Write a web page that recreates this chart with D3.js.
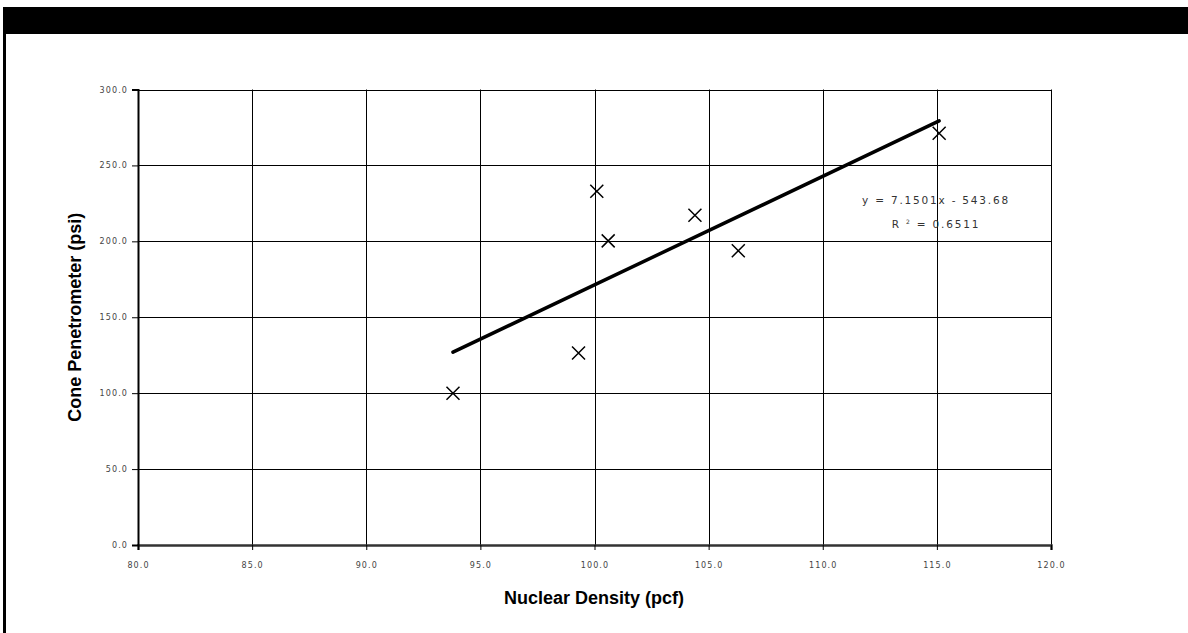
<!DOCTYPE html>
<html lang="en">
    <head>
        <meta charset="utf-8">
        <title>Cone Penetrometer vs Nuclear Density</title>
        <script src="https://d3js.org/d3.v7.min.js"></script>
        <style type="text/css">
            html, body {
                margin: 0;
                padding: 0;
                background-color: white;
            }
            .tick-label {
                font-family: "DejaVu Sans", sans-serif;
                font-size: 8px;
                letter-spacing: 1.1px;
                fill: #444;
            }
            .axis-title {
                font-family: "Liberation Sans", Arial, sans-serif;
                font-size: 18px;
                font-weight: bold;
                fill: #000;
            }
            .eq {
                font-family: "DejaVu Sans", sans-serif;
                font-size: 10.5px;
                letter-spacing: 1.8px;
                fill: #333;
            }
        </style>
    </head>
    <body>
        <script type="text/javascript">
            // data
            const density = [93.8, 99.3, 100.1, 100.6, 104.4, 106.3, 115.1];
            const cone = [100.0, 126.5, 233.0, 200.3, 217.2, 193.8, 271.2];
            const xTicks = [80, 85, 90, 95, 100, 105, 110, 115, 120];
            const yTicks = [0, 50, 100, 150, 200, 250, 300];
            // trend line as printed on the chart
            const slope = 7.1501, intercept = -543.68, r2 = 0.6511;

            const w = 1188, h = 633;
            const svg = d3.select("body").append("svg")
                .attr("width", w)
                .attr("height", h);

            // frame: black bar on top, thick line on left
            svg.append("rect").attr("x", 3).attr("y", 7).attr("width", w - 3).attr("height", 27).attr("fill", "#000");
            svg.append("rect").attr("x", 3).attr("y", 7).attr("width", 3).attr("height", h - 7).attr("fill", "#000");

            const x = d3.scaleLinear().domain([80, 120]).range([138, 1051]);
            const y = d3.scaleLinear().domain([0, 300]).range([545, 89.5]);

            // gridlines
            svg.append("g").selectAll("line.v")
                .data(xTicks)
                .enter().append("line")
                .attr("x1", d => Math.round(x(d)) + 0.5).attr("x2", d => Math.round(x(d)) + 0.5)
                .attr("y1", y(300)).attr("y2", y(0))
                .attr("stroke", "#000").attr("stroke-width", 1);
            svg.append("g").selectAll("line.h")
                .data(yTicks)
                .enter().append("line")
                .attr("x1", x(80)).attr("x2", x(120))
                .attr("y1", d => Math.round(y(d)) + 0.5).attr("y2", d => Math.round(y(d)) + 0.5)
                .attr("stroke", "#000").attr("stroke-width", 1);

            // axes
            const xAxis = d3.axisBottom(x).tickValues(xTicks).tickSize(5).tickPadding(12)
                .tickFormat(d3.format(".1f"));
            const yAxis = d3.axisLeft(y).tickValues(yTicks).tickSize(6).tickPadding(4)
                .tickFormat(d3.format(".1f"));

            const gx = svg.append("g").attr("transform", "translate(0," + Math.round(y(0)) + ")").call(xAxis);
            gx.select(".domain").attr("stroke", "#333").attr("stroke-width", 2.5);
            gx.selectAll(".tick line").attr("stroke", "#000");
            gx.selectAll("text").attr("class", "tick-label").attr("font-family", null).attr("font-size", null);

            const gy = svg.append("g").attr("transform", "translate(" + Math.round(x(80)) + ",0)").call(yAxis);
            gy.select(".domain").attr("stroke", "#000").attr("stroke-width", 2);
            gy.selectAll(".tick line").attr("stroke", "#000");
            gy.selectAll("text").attr("class", "tick-label").attr("font-family", null).attr("font-size", null);

            // trend line over the data range
            const xMin = d3.min(density), xMax = d3.max(density);
            svg.append("line")
                .attr("x1", x(xMin)).attr("y1", y(slope * xMin + intercept))
                .attr("x2", x(xMax)).attr("y2", y(slope * xMax + intercept))
                .attr("stroke", "#000").attr("stroke-width", 3.5).attr("stroke-linecap", "round");

            // X markers
            const s = 6.5;
            const pts = density.map((d, i) => ({ x: d, y: cone[i] }));
            svg.append("g").selectAll("path")
                .data(pts)
                .enter().append("path")
                .attr("d", d => {
                    const cx = x(d.x), cy = y(d.y);
                    return "M" + (cx - s) + "," + (cy - s) + "L" + (cx + s) + "," + (cy + s) +
                           "M" + (cx - s) + "," + (cy + s) + "L" + (cx + s) + "," + (cy - s);
                })
                .attr("stroke", "#000").attr("stroke-width", 1.5).attr("fill", "none");

            // equation label
            const eq = svg.append("g");
            eq.append("text").attr("class", "eq").attr("x", 936).attr("y", 204).attr("text-anchor", "middle")
                .text("y = " + slope + "x - " + (-intercept).toFixed(2));
            const r = eq.append("text").attr("class", "eq").attr("x", 936).attr("y", 228).attr("text-anchor", "middle");
            r.append("tspan").text("R ");
            r.append("tspan").attr("dy", -4).attr("font-size", "6px").text("2");
            r.append("tspan").attr("dy", 4).text(" = " + r2);

            // axis titles
            svg.append("text").attr("class", "axis-title")
                .attr("x", 594).attr("y", 604).attr("text-anchor", "middle")
                .text("Nuclear Density (pcf)");
            svg.append("text").attr("class", "axis-title")
                .attr("transform", "translate(81," + (y(150)) + ") rotate(-90)")
                .attr("text-anchor", "middle")
                .text("Cone Penetrometer (psi)");
        </script>
    </body>
</html>
